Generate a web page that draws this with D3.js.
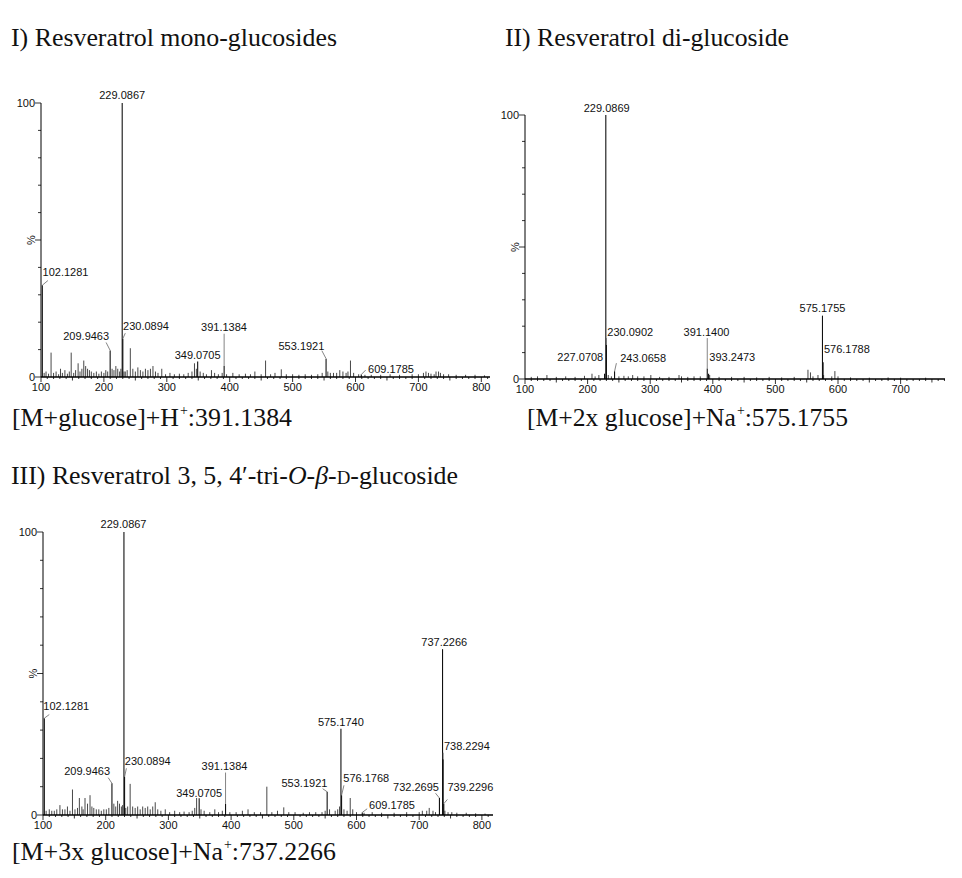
<!DOCTYPE html>
<html>
<head>
<meta charset="utf-8">
<script src="https://cdn.jsdelivr.net/npm/d3@7"></script>
<style>
  body { margin: 0; background: #fff; }
  svg { display: block; }
  .tick-label { font-family: "Liberation Sans", Arial, sans-serif; font-size: 11px; fill: #111; }
  .peak-label { font-family: "Liberation Sans", Arial, sans-serif; font-size: 11px; fill: #111; }
  .title { font-family: "Liberation Serif", "Times New Roman", serif; fill: #111; }
</style>
</head>
<body>
<div id="chart"></div>
<script>
// ---- data: labelled peaks [m/z, relative intensity %] ----
const peaksI = [
  [102.1281, 33.5], [209.9463, 9.7], [229.0867, 100], [230.0894, 14],
  [349.0705, 5.7], [391.1384, 4], [553.1921, 6.7], [609.1785, 0.9]
];
const peaksII = [
  [227.0708, 2], [229.0869, 100], [230.0902, 13], [243.0658, 2.9],
  [391.1400, 4], [393.2473, 2], [575.1755, 24], [576.1788, 6.3]
];
const peaksIII = [
  [102.1281, 34.2], [209.9463, 11.2], [229.0867, 100], [230.0894, 13.5],
  [349.0705, 5.9], [391.1384, 4], [553.1921, 8.2], [575.1740, 30.5],
  [576.1768, 7], [609.1785, 0.9], [732.2695, 6], [737.2266, 58.6],
  [738.2294, 19.7], [739.2296, 4]
];

// ---- data: unlabelled minor peaks [m/z, %] ----
const noiseI = [
  [105,1.5],[108,2],[112,1.2],[116,8.9],[120,1.5],[124,2],[128,1],[131,3],[134,1.5],[138,2.5],
  [142,1.2],[145,2],[148,8.9],[152,1.5],[155,2.5],[159,5],[162,2],[165,3],[168,6],[171,4],
  [174,3],[177,2.5],[180,2],[184,1.5],[188,2],[192,1.2],[196,2],[200,1.5],[203,2.5],[206,2],
  [213,3],[216,2.5],[219,4],[222,3],[225,2],[227,3],[232,2],[234,2],[237,2.5],[242,10.5],
  [246,3],[250,2],[254,3.5],[258,2.5],[262,2],[266,3],[270,2.5],[274,3],[278,4],[282,2],
  [286,1.5],[292,3],[298,1],[305,1.5],[312,1],[320,1.2],[327,1],[334,1.5],[340,2],[344,5],
  [347,3],[353,2],[358,1.5],[363,1],[371,2.5],[376,1.5],[382,1],[388,1.5],[395,1],[405,1.5],
  [415,1],[425,1.2],[433,1],[440,2],[450,1],[457,6],[465,1],[472,1.5],[482,2.8],[490,1],
  [500,1],[510,0.8],[520,1],[530,0.8],[540,1],[547,1.5],[556,2],[560,1.5],[565,1.5],[570,1.5],
  [575,2.5],[580,2],[585,1.5],[588,2],[592,6],[597,1.5],[605,1],[615,0.8],[625,0.8],[640,0.8],
  [655,1],[670,0.8],[690,1],[700,1],[708,1.5],[712,2],[716,1.5],[720,1.2],[725,1],[728,2],
  [732,2],[735,1.5],[740,1],[748,1],[760,0.8],[775,0.8],[790,0.8],[805,0.6]
];
const noiseII = [
  [110,0.8],[120,1],[135,1.5],[150,0.8],[165,1],[180,0.8],[195,1.2],[207,2],[212,1],[218,1.5],
  [233,1.5],[238,1],[250,1],[258,1.2],[265,1],[272,1.5],[280,1],[290,1],[301,1.5],[315,0.8],
  [330,0.8],[346,1.5],[350,1],[360,0.8],[370,1],[380,1],[395,1.5],[410,0.8],[430,0.8],[450,0.8],
  [470,0.6],[490,0.8],[510,0.6],[530,0.8],[552,3.5],[556,2.5],[560,1],[568,1.5],[577,1.5],[590,1],
  [595,3],[600,1],[620,0.6],[650,0.5],[680,0.6],[700,0.5],[740,0.5]
];
const noiseIII = [
  [105,1.5],[110,2],[114,1.5],[118,1.5],[122,2],[127,3.5],[131,2],[135,2],[139,3],[143,1.5],
  [147,9],[151,2],[155,2.5],[158,6],[162,3],[164,2],[167,6],[171,4],[175,7],[178,3],
  [181,2.5],[185,2],[189,2],[193,1.5],[197,2],[201,2],[205,2.5],[213,4],[216,3],[219,5],
  [222,4],[225,3],[227,3.5],[232,2.5],[235,3],[239,11],[243,3],[247,2.5],[251,3],[255,2],
  [259,3],[263,2.5],[267,3],[271,2],[275,3],[279,4.5],[283,2],[288,1.5],[295,2],[302,1],
  [310,1.5],[318,1],[325,1.2],[333,1],[338,1.5],[342,2.5],[345,6],[352,2],[357,1.5],[366,1],
  [374,2],[380,1],[386,1.5],[398,1],[408,1],[418,1.5],[427,2],[437,1],[447,1],[457,10],
  [465,1],[474,1.5],[484,2.7],[492,1],[502,1],[515,0.8],[525,1],[535,1],[545,1],[550,1.5],
  [557,2],[566,1.5],[570,2],[573,3],[580,2],[585,1.5],[590,6],[594,2],[600,1],[612,0.8],
  [625,1],[640,0.8],[660,0.8],[680,1],[700,1],[705,1.5],[712,1.5],[716,2.5],[722,1.5],[726,1],
  [741,1.5],[746,1],[752,1],[760,0.8],[775,0.8],[790,0.6],[805,0.5]
];

// ---- label placement (in data units): text anchor point and optional leader end ----
const labelsI = {
  '102.1281': { tx: 102.5, ty: 36.9, anchor: 'start', lead: [111, 35.2] },
  '209.9463': { tx: 208.3, ty: 13.4, anchor: 'end', lead: [203.5, 12.6] },
  '229.0867': { tx: 229.1, ty: 101.3, anchor: 'middle' },
  '230.0894': { tx: 230.5, ty: 17, anchor: 'start', lead: [234, 16] },
  '349.0705': { tx: 349, ty: 6.5, anchor: 'middle' },
  '391.1384': { tx: 391, ty: 16.8, anchor: 'middle', lead: [391.1384, 15.8] },
  '553.1921': { tx: 514, ty: 10, anchor: 'middle', lead: [546.5, 9.6] },
  '609.1785': { tx: 620, ty: 1.4, anchor: 'start', lead: [616, 2.5] }
};
const labelsII = {
  '229.0869': { tx: 230.5, ty: 101, anchor: 'middle' },
  '230.0902': { tx: 231.5, ty: 16.4, anchor: 'start', lead: [230.0902, 15.5] },
  '227.0708': { tx: 225, ty: 6.7, anchor: 'end' },
  '243.0658': { tx: 252, ty: 6.3, anchor: 'start', lead: [246, 6.0] },
  '391.1400': { tx: 390, ty: 16.4, anchor: 'middle', lead: [391.14, 15.5] },
  '393.2473': { tx: 394.5, ty: 7, anchor: 'start' },
  '575.1755': { tx: 575.2, ty: 25.2, anchor: 'middle' },
  '576.1788': { tx: 577.5, ty: 9.8, anchor: 'start' }
};
const labelsIII = {
  '102.1281': { tx: 100.5, ty: 37.1, anchor: 'start', lead: [110, 35.5] },
  '209.9463': { tx: 207, ty: 14.1, anchor: 'end', lead: [204, 13.2] },
  '229.0867': { tx: 228.5, ty: 101.3, anchor: 'middle' },
  '230.0894': { tx: 230.5, ty: 17.7, anchor: 'start', lead: [233, 16.5] },
  '349.0705': { tx: 349, ty: 6.5, anchor: 'middle' },
  '391.1384': { tx: 389.5, ty: 15.9, anchor: 'middle', lead: [391.1384, 15] },
  '553.1921': { tx: 517, ty: 10, anchor: 'middle', lead: [546, 9.3] },
  '575.1740': { tx: 575, ty: 31.3, anchor: 'middle' },
  '576.1768': { tx: 579, ty: 11.6, anchor: 'start', lead: [580, 10.5] },
  '609.1785': { tx: 620, ty: 2, anchor: 'start', lead: [617, 2.2] },
  '732.2695': { tx: 731.5, ty: 8.4, anchor: 'end', lead: [726, 7.7] },
  '737.2266': { tx: 740, ty: 59.6, anchor: 'middle' },
  '738.2294': { tx: 739.5, ty: 23, anchor: 'start', lead: [738.2294, 22] },
  '739.2296': { tx: 745, ty: 8.4, anchor: 'start', lead: [745, 5.5] }
};

const W = 962, H = 878;
const svg = d3.select('#chart').append('svg')
  .attr('width', W)
  .attr('height', H);

// draw one spectrum panel
function drawPanel(cfg) {
  const x = d3.scaleLinear().domain(cfg.xDomain).range([cfg.left, cfg.right]);
  const y = d3.scaleLinear().domain([0, 100]).range([cfg.bottom, cfg.top]);
  const g = svg.append('g');

  // minor peaks
  g.selectAll('.noise')
    .data(cfg.noise)
    .enter().append('line')
    .attr('x1', d => x(d[0])).attr('x2', d => x(d[0]))
    .attr('y1', y(0)).attr('y2', d => y(d[1]))
    .attr('stroke', '#333')
    .attr('stroke-width', 0.9);

  // labelled peaks
  g.selectAll('.peak')
    .data(cfg.peaks)
    .enter().append('line')
    .attr('x1', d => x(d[0])).attr('x2', d => x(d[0]))
    .attr('y1', y(0)).attr('y2', d => y(d[1]))
    .attr('stroke', '#111')
    .attr('stroke-width', 1.1);

  // leaders + labels
  cfg.peaks.forEach(p => {
    const key = p[0].toFixed(4);
    const lab = cfg.labels[key];
    if (!lab) return;
    if (lab.lead) {
      g.append('line')
        .attr('x1', x(p[0])).attr('y1', y(p[1]))
        .attr('x2', x(lab.lead[0])).attr('y2', y(lab.lead[1]))
        .attr('stroke', '#666')
        .attr('stroke-width', 0.8);
    }
    g.append('text')
      .attr('class', 'peak-label')
      .attr('x', x(lab.tx))
      .attr('y', y(lab.ty))
      .attr('text-anchor', lab.anchor)
      .text(key);
  });

  // x axis line with ticks
  g.append('line')
    .attr('x1', cfg.left).attr('x2', cfg.right)
    .attr('y1', y(0)).attr('y2', y(0))
    .attr('stroke', '#000')
    .attr('stroke-width', 1.3);

  const xTicks = d3.range(100, cfg.xDomain[1] + 0.01, 10);
  g.selectAll('.xtick')
    .data(xTicks)
    .enter().append('line')
    .attr('x1', d => x(d)).attr('x2', d => x(d))
    .attr('y1', y(0))
    .attr('y2', d => y(0) + (d % 100 === 0 ? 5 : d % 50 === 0 ? 3.5 : 2))
    .attr('stroke', '#000')
    .attr('stroke-width', 0.8);

  g.selectAll('.xlabel')
    .data(cfg.xLabels)
    .enter().append('text')
    .attr('class', 'tick-label')
    .attr('x', d => x(d))
    .attr('y', y(0) + 14)
    .attr('text-anchor', 'middle')
    .text(d => d);

  // y axis
  g.append('line')
    .attr('x1', cfg.left).attr('x2', cfg.left)
    .attr('y1', y(0)).attr('y2', y(100))
    .attr('stroke', '#000')
    .attr('stroke-width', 1);

  g.selectAll('.ytick')
    .data(d3.range(0, 101, 10))
    .enter().append('line')
    .attr('x1', d => cfg.left - (d % 50 === 0 ? 6 : 3))
    .attr('x2', cfg.left)
    .attr('y1', d => y(d)).attr('y2', d => y(d))
    .attr('stroke', '#000')
    .attr('stroke-width', 0.8);

  g.selectAll('.ylabel')
    .data([0, 100])
    .enter().append('text')
    .attr('class', 'tick-label')
    .attr('x', cfg.left - 6)
    .attr('y', d => y(d) + 4)
    .attr('text-anchor', 'end')
    .text(d => d);

  g.append('text')
    .attr('class', 'tick-label')
    .attr('transform', `translate(${cfg.left - 10}, ${y(50)}) rotate(-90)`)
    .attr('text-anchor', 'middle')
    .attr('dy', '0.35em')
    .text('%');
}

drawPanel({
  left: 41, right: 490, top: 103, bottom: 377,
  xDomain: [100, 813.8], xLabels: [100, 200, 300, 400, 500, 600, 700, 800],
  peaks: peaksI, noise: noiseI, labels: labelsI
});
drawPanel({
  left: 525, right: 945, top: 115, bottom: 379,
  xDomain: [100, 770.9], xLabels: [100, 200, 300, 400, 500, 600, 700],
  peaks: peaksII, noise: noiseII, labels: labelsII
});
drawPanel({
  left: 43, right: 493, top: 532, bottom: 815,
  xDomain: [100, 817.7], xLabels: [100, 200, 300, 400, 500, 600, 700, 800],
  peaks: peaksIII, noise: noiseIII, labels: labelsIII
});

// titles and captions
function serifText(xPos, yPos, width) {
  return svg.append('text')
    .attr('class', 'title')
    .attr('x', xPos)
    .attr('y', yPos)
    .attr('font-size', 26)
    .attr('textLength', width)
    .attr('lengthAdjust', 'spacingAndGlyphs');
}

// caption with a superscript "+" on the ion
function caption(xPos, yPos, width, head, tail) {
  const t = serifText(xPos, yPos, width);
  t.append('tspan').text(head);
  t.append('tspan').attr('font-size', 14).attr('dx', 1).attr('dy', -11).text('+');
  t.append('tspan').attr('dy', 11).text(tail);
  return t;
}

serifText(11, 46, 326).text('I) Resveratrol mono-glucosides');
serifText(505, 46, 284).text('II) Resveratrol di-glucoside');

caption(12, 426, 280, '[M+glucose]+H', ':391.1384');
caption(527, 426, 321, '[M+2x glucose]+Na', ':575.1755');

const t3 = serifText(11, 484, 447);
t3.append('tspan').text('III) Resveratrol 3, 5, 4\u2032-tri-');
t3.append('tspan').attr('font-style', 'italic').text('O');
t3.append('tspan').text('-');
t3.append('tspan').attr('font-style', 'italic').text('\u03B2');
t3.append('tspan').text('-');
t3.append('tspan').attr('font-size', 19).text('D');
t3.append('tspan').text('-glucoside');

caption(12, 860, 324, '[M+3x glucose]+Na', ':737.2266');
</script>
</body>
</html>
